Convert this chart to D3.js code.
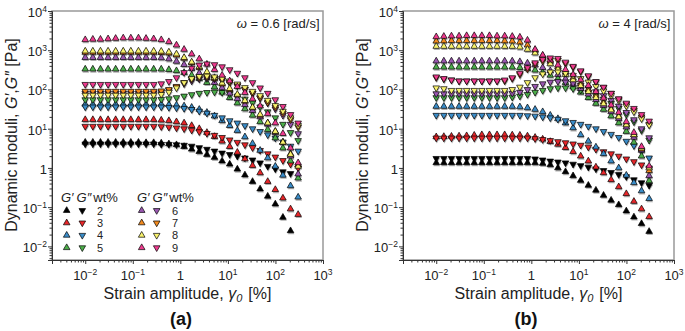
<!DOCTYPE html>
<meta charset="utf-8">
<style>
body { margin: 0; background: #fff; }
svg { font-family: "Liberation Sans", Arial, sans-serif; }
</style>
<svg width="685" height="331"></svg>
<script src="https://d3js.org/d3.v7.min.js"></script>
<script>
// strain amplitude [%], log sweep 0.01 .. 300
const strain = [0.01, 0.01445, 0.0209, 0.0302, 0.0436, 0.063, 0.091, 0.1316, 0.190, 0.275,
  0.397, 0.574, 0.829, 1.199, 1.732, 2.50, 3.62, 5.23, 7.55, 10.9,
  15.8, 22.8, 33.0, 47.6, 68.8, 99.4, 143.6, 207.6, 300];

const wt = [2, 3, 4, 5, 6, 7, 8, 9];
const colors = ["#000000", "#e8262a", "#3a8cc8", "#4cae4a", "#9a57b0", "#f28a1e", "#f8f26c", "#ee3a8e"];

// panel (a), omega = 0.6 rad/s
const aGp2 = [4.5,4.5,4.5,4.5,4.5,4.5,4.5,4.5,4.4,4.4,4.3,4.1,3.9,3.5,3.0,2.6,2.2,1.85,1.5,1.25,0.93,0.66,0.45,0.29,0.19,0.12,0.055,0.025];
const aGpp2 = [4.1,4.1,4.1,4.1,4.1,4.1,4.1,4.1,4.1,4.1,4.0,4.0,3.9,3.8,3.6,3.3,3.0,2.7,2.4,2.2,2.0,1.8,1.6,1.35,1.1,0.95,0.8,0.72];
const aGp3 = [17,17,17,17,17,17,17,17,17,17,16.5,16,15,14,12,10,8,6.3,4.8,3.5,2.5,1.7,1.15,0.75,0.45,0.28,0.17,0.09,0.065];
const aGpp3 = [11.5,11.5,11.5,11.5,11.5,11.5,11.5,11.5,11.5,11.5,11.3,11,10.5,10,9.2,8.4,7.6,6.8,6,5.2,4.5,3.9,3.3,2.8,2.3,1.9,1.55,1.25,1.0];
const aGp4 = [42,42,42,42,42,42,42,42,42,42,42,41,40,38,35,31,26,21,16,12,9,6.2,4.2,2.8,1.8,1.1,0.65,0.35,0.18];
const aGpp4 = [36,36,36,36,36,36,36,36,36,36,36,35,34,33,31,28,25,22,19,16,14,12,10,8.5,7,5.8,4.6,3.6,2.7];
const aGp5 = [330,330,330,330,330,330,330,330,330,330,330,320,300,270,230,190,150,115,85,62,45,32,22,15,9.5,5.8,3.2,1.5,0.55];
const aGpp5 = [55,55,55,55,55,55,55,55,55,55,56,58,62,68,74,80,84,86,84,78,68,57,46,36,27,19,13,8,5];
const aGp6 = [650,650,650,650,650,650,650,650,650,650,640,600,520,430,340,260,200,150,110,80,58,41,29,20,13,8,4.5,2,0.7];
const aGpp6 = [80,80,80,80,80,80,80,80,80,82,85,95,115,140,165,185,190,185,170,150,125,100,80,60,45,32,22,13,7.5];
const aGp7 = [880,880,880,880,880,880,880,880,880,880,870,840,750,620,480,360,265,190,138,100,72,50,34,22,14,8.5,4.5,2.3,1.2];
const aGpp7 = [90,90,90,90,90,90,90,90,90,90,92,100,120,150,180,200,205,195,175,150,125,100,80,62,47,35,25,17,11];
const aGp8 = [950,950,950,950,950,950,950,950,950,950,940,900,800,650,500,380,280,200,145,105,75,52,35,23,14,8.5,4.5,2.2,1.1];
const aGpp8 = [72,72,72,72,72,72,72,72,72,72,75,85,110,150,190,215,220,210,190,165,138,112,90,70,53,39,28,19,12];
const aGp9 = [1850,1900,1900,1950,2000,2050,2050,2050,2000,1950,1850,1650,1350,1050,800,600,440,320,230,165,118,83,57,38,24,14,7.5,3.2,1.35];
const aGpp9 = [135,135,135,135,135,135,135,135,135,135,140,160,200,270,350,420,450,430,380,320,260,200,150,110,80,55,37,23,14];

// panel (b), omega = 4 rad/s
const bGp2 = [1.35,1.35,1.35,1.35,1.35,1.35,1.35,1.35,1.35,1.35,1.35,1.35,1.35,1.35,1.3,1.2,1.0,0.8,0.63,0.48,0.36,0.27,0.2,0.15,0.115,0.08,0.056,0.038,0.024];
const bGpp2 = [1.75,1.75,1.75,1.75,1.75,1.75,1.75,1.75,1.75,1.75,1.75,1.75,1.75,1.7,1.6,1.5,1.42,1.35,1.25,1.15,1.05,0.95,0.86,0.77,0.68,0.6,0.5,0.42,0.36];
const bGp3 = [6.2,6.3,6.4,6.5,6.6,6.8,7,7,7,7,6.9,6.8,6.5,6.0,5.4,4.7,4.0,3.3,2.6,2.0,1.5,1.05,0.75,0.5,0.33,0.22,0.14,0.09,0.057];
const bGpp3 = [5.8,5.8,5.8,5.8,5.8,5.8,5.8,5.8,5.8,5.8,5.8,5.8,5.8,5.6,5.3,5.0,4.7,4.4,4.1,3.8,3.4,3.0,2.6,2.3,2.0,1.7,1.45,1.2,1.0];
const bGp4 = [37,37,37,37,37,37,37,37,37,37,37,36,34,31,27,22,18,14,10.5,7,4.8,3.4,2.3,1.5,1.0,0.65,0.42,0.26,0.165];
const bGpp4 = [22,22,22,22,22,22,22,22,22,22,22,22,21.5,21,20,19,17.5,16,14.5,13,11.5,10,8.5,7.2,6,4.8,3.7,2.7,1.8];
const bGp5 = [370,370,370,370,370,370,370,370,370,370,370,360,340,310,270,230,190,150,115,85,62,44,31,21,14,8.5,4.5,2,0.47];
const bGpp5 = [62,62,62,62,62,62,62,62,62,62,64,68,75,85,95,105,110,110,105,96,84,70,57,44,33,23,15,9,5.1];
const bGp6 = [530,530,530,530,530,530,530,530,530,530,530,510,470,420,360,300,240,185,140,105,76,55,39,27,18,11,6,2.8,0.63];
const bGpp6 = [78,78,78,78,78,78,78,78,78,78,80,85,100,120,140,155,160,155,145,128,108,88,70,53,38,26,17,10,5.9];
const bGp7 = [1700,1720,1750,1750,1750,1750,1750,1750,1750,1720,1700,1600,1350,1000,720,520,380,275,198,140,100,70,48,32,21,13,7,3,0.85];
const bGpp7 = [200,185,175,165,165,165,165,165,165,165,190,240,330,440,530,570,550,460,370,285,215,155,112,80,57,42,30,20,13];
const bGp8 = [1250,1250,1250,1250,1250,1250,1250,1250,1250,1250,1250,1200,1050,850,620,450,330,240,175,125,88,62,43,30,20,12.5,7,3.2,1.0];
const bGpp8 = [110,105,95,95,95,95,95,95,95,95,100,115,150,200,250,280,280,260,230,190,155,120,92,70,52,38,27,18,12.4];
const bGp9 = [2200,2250,2300,2300,2350,2350,2350,2350,2300,2300,2250,2150,1800,1050,750,560,420,320,240,175,125,88,60,40,26,15,8,3.5,1.12];
const bGpp9 = [210,190,175,165,165,165,165,165,165,175,200,260,360,480,580,640,620,500,390,300,225,160,115,80,58,45,33,23,15.7];

const xMajor = [0.01, 0.1, 1, 10, 100, 1000];
const yMajor = [0.01, 0.1, 1, 10, 100, 1000, 10000];

const panels = [
  {left: 52, label: "(a)", labelX: 129, omega: " = 0.6 [rad/s]",
   gp: [aGp2, aGp3, aGp4, aGp5, aGp6, aGp7, aGp8, aGp9],
   gpp: [aGpp2, aGpp3, aGpp4, aGpp5, aGpp6, aGpp7, aGpp8, aGpp9], legend: true},
  {left: 403, label: "(b)", labelX: 123, omega: " = 4 [rad/s]",
   gp: [bGp2, bGp3, bGp4, bGp5, bGp6, bGp7, bGp8, bGp9],
   gpp: [bGpp2, bGpp3, bGpp4, bGpp5, bGpp6, bGpp7, bGpp8, bGpp9], legend: false}
];

const svg = d3.select("svg");
const w = 271, h = 249, topM = 11;

const x = d3.scaleLog().domain([0.002, 1000]).range([0, w]);
const y = d3.scaleLog().domain([0.0045, 10000]).range([h, 0]);

const triUp = d3.symbol().type(d3.symbolTriangle).size(19)();

function minorTicks(scale) {
  const [a, b] = scale.domain();
  const out = [];
  for (let e = Math.floor(Math.log10(a)); e <= Math.ceil(Math.log10(b)); e++) {
    for (let k = 2; k <= 9; k++) {
      const v = k * Math.pow(10, e);
      if (v >= a && v <= b) out.push(v);
    }
  }
  return out;
}

function powLabel(sel, v) {
  const e = Math.round(Math.log10(v));
  if (e === 0) { sel.text("1"); return; }
  sel.append("tspan").text("10");
  sel.append("tspan").attr("font-size", 8.5).attr("dy", -5)
    .text(e < 0 ? "\u2212" + (-e) : String(e));
}

function marker(g, xv, yv, up, fill) {
  g.append("path").attr("d", triUp)
    .attr("transform", `translate(${x(xv)},${y(yv)})${up ? "" : " rotate(180)"}`)
    .attr("fill", fill).attr("stroke", "#000").attr("stroke-width", 0.7);
}

panels.forEach(p => {
  const g = svg.append("g").attr("transform", `translate(${p.left},${topM})`);

  g.append("rect").attr("width", w).attr("height", h)
    .attr("fill", "none").attr("stroke", "#999").attr("stroke-width", 1.5);

  const ax = g.append("g").attr("transform", `translate(0,${h})`);
  ax.call(d3.axisBottom(x).tickValues(xMajor).tickSize(4).tickFormat(""));
  ax.append("g").call(d3.axisBottom(x).tickValues(minorTicks(x)).tickSize(2.5).tickFormat(""))
    .select(".domain").remove();
  const ay = g.append("g");
  ay.call(d3.axisLeft(y).tickValues(yMajor).tickSize(4).tickFormat(""));
  ay.append("g").call(d3.axisLeft(y).tickValues(minorTicks(y)).tickSize(2.5).tickFormat(""))
    .select(".domain").remove();
  g.selectAll(".domain").attr("stroke", "#333");
  g.selectAll(".tick line").attr("stroke", "#333");

  xMajor.forEach(v => {
    g.append("text").attr("x", x(v)).attr("y", h + 20).attr("text-anchor", "middle")
      .attr("font-size", 13).attr("fill", "#222").call(powLabel, v);
  });
  yMajor.forEach(v => {
    g.append("text").attr("x", -5).attr("y", y(v) + 6).attr("text-anchor", "end")
      .attr("font-size", 13).attr("fill", "#222").call(powLabel, v);
  });

  // data: shadows first, then markers
  const sh = g.append("g"), mk = g.append("g");
  wt.forEach((c, j) => {
    [[p.gp[j], true], [p.gpp[j], false]].forEach(([vals, up]) => {
      vals.forEach((v, i) => {
        sh.append("path").attr("d", triUp)
          .attr("transform", `translate(${x(strain[i]) + 0.6},${y(v) + 1.6})${up ? "" : " rotate(180)"}`)
          .attr("fill", "#b0b0b0");
      });
    });
  });
  wt.forEach((c, j) => {
    p.gp[j].forEach((v, i) => marker(mk, strain[i], v, true, colors[j]));
    p.gpp[j].forEach((v, i) => marker(mk, strain[i], v, false, colors[j]));
  });

  // omega note
  const om = g.append("text").attr("x", w - 3.5).attr("y", 17).attr("text-anchor", "end")
    .attr("font-size", 13).attr("fill", "#222");
  om.append("tspan").attr("font-style", "italic").text("\u03c9");
  om.append("tspan").text(p.omega);

  // axis titles
  const yt = g.append("text").attr("transform", `translate(-35,${135 - topM}) rotate(-90)`)
    .attr("text-anchor", "middle").attr("font-size", 16).attr("fill", "#222");
  yt.append("tspan").text("Dynamic moduli, ");
  yt.append("tspan").attr("font-style", "italic").text("G\u2032");
  yt.append("tspan").text(",");
  yt.append("tspan").attr("font-style", "italic").text("G\u2033");
  yt.append("tspan").text(" [Pa]");

  const xt = g.append("text").attr("x", w / 2).attr("y", 299 - topM).attr("text-anchor", "middle")
    .attr("font-size", 16).attr("fill", "#222");
  xt.append("tspan").text("Strain amplitude, ");
  xt.append("tspan").attr("font-style", "italic").text("\u03b3");
  xt.append("tspan").attr("font-style", "italic").attr("font-size", 11).attr("dy", 3).text("0");
  xt.append("tspan").attr("dy", -3).attr("dx", 6).text("[%]");

  g.append("text").attr("x", p.labelX).attr("y", 325 - topM).attr("text-anchor", "middle")
    .attr("font-size", 18).attr("font-weight", "bold").attr("fill", "#111").text(p.label);

  if (p.legend) {
    const lg = g.append("g").attr("transform", `translate(${-p.left},${-topM})`);
    const cols = [{gx: 61, n: 100, t1: 66.7, t2: 82.3}, {gx: 137, n: 175, t1: 141.7, t2: 156.7}];
    const rowY = r => 210.5 + r * 12.4;
    cols.forEach((col, ci) => {
      const hd = lg.append("text").attr("x", col.gx).attr("y", 202).attr("font-size", 13).attr("fill", "#222");
      hd.append("tspan").attr("font-style", "italic").text("G\u2032");
      hd.append("tspan").attr("dx", 3).attr("font-style", "italic").text("G\u2033");
      hd.append("tspan").attr("dx", 2).text("wt%");
      for (let r = 0; r < 4; r++) {
        const j = ci * 4 + r;
        lg.append("path").attr("d", triUp).attr("transform", `translate(${col.t1},${rowY(r)})`)
          .attr("fill", colors[j]).attr("stroke", "#000").attr("stroke-width", 0.7);
        lg.append("path").attr("d", triUp).attr("transform", `translate(${col.t2},${rowY(r)}) rotate(180)`)
          .attr("fill", colors[j]).attr("stroke", "#000").attr("stroke-width", 0.7);
        lg.append("text").attr("x", col.n).attr("y", rowY(r) + 4).attr("text-anchor", "middle")
          .attr("font-size", 11).attr("fill", "#222").text(wt[j]);
      }
    });
  }
});
</script>
